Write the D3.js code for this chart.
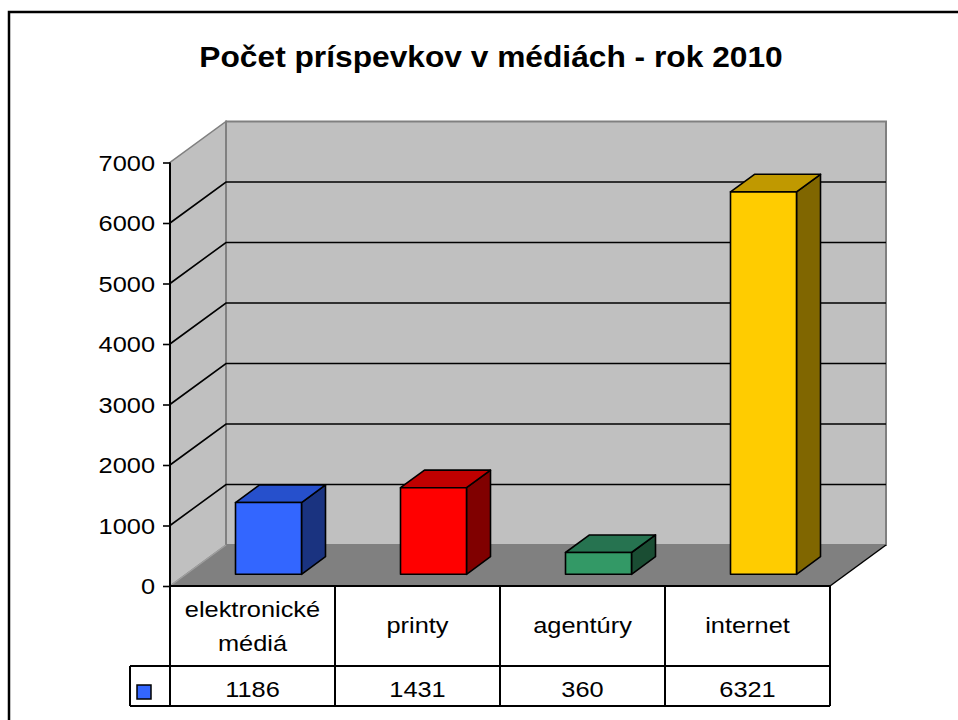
<!DOCTYPE html>
<html>
<head>
<meta charset="utf-8">
<script src="https://cdn.jsdelivr.net/npm/d3@7"></script>
<style>
  html, body { margin: 0; padding: 0; background: #fff; }
  svg { display: block; }
  text { font-family: "Liberation Sans", Arial, sans-serif; fill: #000; }
</style>
</head>
<body>
<div id="chart"></div>
<script>
// ---- data ----
const title = "Počet príspevkov v médiách - rok 2010";
const categories = ["elektronické médiá", "printy", "agentúry", "internet"];
const values = [1186, 1431, 360, 6321];
const tickValues = [0, 1000, 2000, 3000, 4000, 5000, 6000, 7000];
const frontColors = ["#3366ff", "#ff0000", "#339966", "#ffcc00"];
const topColors = ["#2650cc", "#c00000", "#267350", "#c09900"];
const sideColors = ["#1a3380", "#800000", "#1a4d33", "#806600"];

// ---- layout ----
const W = 958, H = 720;
const SX = 1.18; // horizontal stretch of the reference lettering
const svg = d3.select("#chart").append("svg").attr("width", W).attr("height", H);

const x = d3.scaleBand().domain(categories).range([170, 830]).padding(0);
const y = d3.scaleLinear().domain([0, 7000]).range([586, 162.5]);
const DX = 56, DY = -41;           // full depth offset
const f0 = 2 / 7, f1 = 5 / 7;      // bar depth (front / back fraction)
const barW = x.bandwidth() * 0.4;

const P = (px, v, d) => [px + d * DX, y(v) + d * DY];
const poly = pts => pts.map(p => p.join(",")).join(" ");
const label = (parent, px, py, txt, size, anchor, weight, sx) =>
  parent.append("text")
    .attr("transform", `translate(${px},${py}) scale(${sx || SX},1)`)
    .attr("text-anchor", anchor || "middle")
    .attr("font-size", size)
    .attr("font-weight", weight || "normal")
    .text(txt);

// outer frame
svg.append("rect").attr("x", 9).attr("y", 12).attr("width", 980).attr("height", 760)
  .attr("fill", "#fff").attr("stroke", "#000").attr("stroke-width", 2.5);

// title
label(svg, 491, 67, title, 29, "middle", "bold", 1.094);

const [xL, xR] = x.range();

// side wall
svg.append("polygon")
  .attr("points", poly([P(xL, 0, 0), P(xL, 7000, 0), P(xL, 7000, 1), P(xL, 0, 1)]))
  .attr("fill", "#c0c0c0").attr("stroke", "#808080").attr("stroke-width", 1.5);
// back wall
svg.append("polygon")
  .attr("points", poly([P(xL, 0, 1), P(xL, 7000, 1), P(xR, 7000, 1), P(xR, 0, 1)]))
  .attr("fill", "#c0c0c0").attr("stroke", "#808080").attr("stroke-width", 2);
// floor
svg.append("polygon")
  .attr("points", poly([P(xL, 0, 0), P(xR, 0, 0), P(xR, 0, 1), P(xL, 0, 1)]))
  .attr("fill", "#808080").attr("stroke", "none");
svg.append("line")
  .attr("x1", P(xR, 0, 0)[0]).attr("y1", P(xR, 0, 0)[1])
  .attr("x2", P(xR, 0, 1)[0]).attr("y2", P(xR, 0, 1)[1])
  .attr("stroke", "#000").attr("stroke-width", 1.5);
svg.append("line")
  .attr("x1", P(xL, 0, 0)[0]).attr("y1", P(xL, 0, 0)[1])
  .attr("x2", P(xL, 0, 1)[0]).attr("y2", P(xL, 0, 1)[1])
  .attr("stroke", "#a0a0a0").attr("stroke-width", 1.2);

// gridlines
const grid = svg.append("g").attr("stroke", "#000").attr("stroke-width", 1.6).attr("fill", "none");
tickValues.filter(v => v > 0 && v < 7000).forEach(v => {
  grid.append("polyline").attr("points", poly([P(xL, v, 0), P(xL, v, 1), P(xR, v, 1)]));
});

// y axis (ticks from d3 axis, labels stretched like the reference)
const yAxis = d3.axisLeft(y).tickValues(tickValues).tickSize(7).tickFormat("");
const ag = svg.append("g").attr("transform", `translate(${xL},0)`).call(yAxis);
ag.select(".domain").remove();
ag.selectAll(".tick line").attr("stroke", "#000").attr("stroke-width", 1.6);
ag.selectAll(".tick").each(function (d) {
  label(d3.select(this), -15, 7.5, d3.format("d")(d), 21.5, "end");
});
svg.append("line").attr("x1", xL).attr("x2", xL).attr("y1", y(7000)).attr("y2", 706)
  .attr("stroke", "#000").attr("stroke-width", 2);

// bars
const bars = svg.append("g").attr("stroke", "#000").attr("stroke-width", 1.6).attr("stroke-linejoin", "round");
categories.forEach((c, i) => {
  const v = values[i];
  const cx = x(c) + x.bandwidth() / 2;
  const a = cx - barW / 2, b = cx + barW / 2;
  bars.append("polygon").attr("fill", sideColors[i])
    .attr("points", poly([P(b, 0, f0), P(b, v, f0), P(b, v, f1), P(b, 0, f1)]));
  bars.append("polygon").attr("fill", topColors[i])
    .attr("points", poly([P(a, v, f0), P(b, v, f0), P(b, v, f1), P(a, v, f1)]));
  bars.append("polygon").attr("fill", frontColors[i])
    .attr("points", poly([P(a, 0, f0), P(b, 0, f0), P(b, v, f0), P(a, v, f0)]));
});

// data table
const rowTop = 586, rowMid = 666, rowBot = 706, keyLeft = 130;
const tbl = svg.append("g").attr("stroke", "#000").attr("stroke-width", 2);
tbl.append("line").attr("x1", xL).attr("x2", xR).attr("y1", rowTop).attr("y2", rowTop);
tbl.append("line").attr("x1", keyLeft).attr("x2", xR).attr("y1", rowMid).attr("y2", rowMid);
tbl.append("line").attr("x1", keyLeft).attr("x2", xR).attr("y1", rowBot).attr("y2", rowBot);
tbl.append("line").attr("x1", keyLeft).attr("x2", keyLeft).attr("y1", rowMid).attr("y2", rowBot);
categories.forEach(c => {
  const xe = x(c) + x.bandwidth();
  tbl.append("line").attr("x1", xe).attr("x2", xe).attr("y1", rowTop).attr("y2", rowBot);
});
// legend key
svg.append("rect").attr("x", 137).attr("y", 685).attr("width", 14).attr("height", 14)
  .attr("fill", frontColors[0]).attr("stroke", "#000").attr("stroke-width", 1.5);

categories.forEach((c, i) => {
  const cx = x(c) + x.bandwidth() / 2;
  const words = c.split(" ");
  if (words.length > 1) {
    label(svg, cx, 617, words[0], 21.5);
    label(svg, cx, 651, words.slice(1).join(" "), 21.5);
  } else {
    label(svg, cx, 633, c, 21.5);
  }
  label(svg, cx, 697, values[i], 21.5);
});
</script>
</body>
</html>
